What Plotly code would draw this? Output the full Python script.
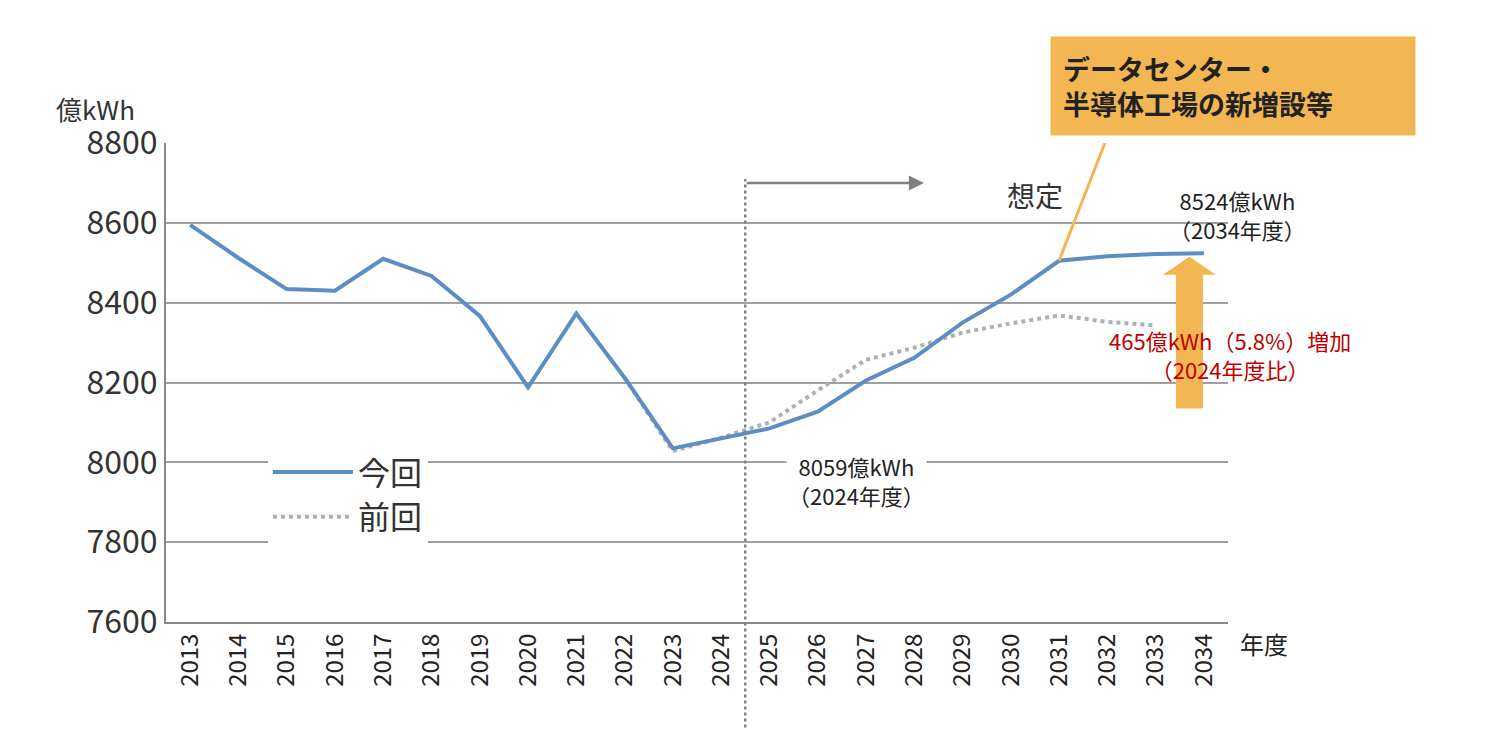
import plotly.graph_objects as go

years = [str(y) for y in range(2013, 2035)]
current = [8595, 8512, 8434, 8430, 8510, 8467, 8367, 8188, 8373, 8212, 8035, 8059,
           8085, 8127, 8205, 8262, 8350, 8420, 8505, 8516, 8522, 8524]
prev_years = [str(y) for y in range(2022, 2034)]
previous = [8212, 8028, 8062, 8100, 8180, 8257, 8287, 8325, 8348, 8368, 8352, 8343]

font = "Noto Sans CJK JP"
fig = go.Figure()
fig.add_trace(go.Scatter(x=prev_years, y=previous, name="前回", mode="lines",
                         line=dict(color="#B0B0B0", width=4, dash="dot")))
fig.add_trace(go.Scatter(x=years, y=current, name="今回", mode="lines",
                         line=dict(color="#5B8FC4", width=4)))

# arrow body + head (category index coordinates)
ax = 20.7
fig.add_shape(type="path", xref="x", yref="y",
              path=f"M {ax-0.28} 8135 L {ax+0.28} 8135 L {ax+0.28} 8470 L {ax+0.55} 8470 "
                   f"L {ax} 8515 L {ax-0.55} 8470 L {ax-0.28} 8470 Z",
              fillcolor="#F2B652", line=dict(width=0), layer="above")
# dotted guide lines
fig.add_shape(type="line", xref="x", yref="paper", x0=11.5, x1=11.5, y0=-0.22, y1=0.925,
              line=dict(color="#808080", width=2.5, dash="dot"))
fig.add_annotation(x=15.2, y=8700, ax=11.5, ay=8700, xref="x", yref="y", axref="x", ayref="y",
                   showarrow=True, arrowhead=2, arrowsize=1.2, arrowwidth=2.5, arrowcolor="#808080",
                   text="")
fig.add_shape(type="line", xref="x", yref="y", x0=18, y0=8505, x1=18.95, y1=8800,
              line=dict(color="#F2B652", width=3))

fig.add_annotation(x=1.005, y=1.223, xref="paper", yref="paper", showarrow=False,
                   text="<b>データセンター・<br>半導体工場の新増設等</b>", align="left",
                   bgcolor="#F2B652", borderpad=12, font=dict(size=27, color="#222"),
                   width=340, xanchor="center", yanchor="top")
fig.add_annotation(x=17.5, y=8670, xref="x", yref="y", showarrow=False, text="想定",
                   font=dict(size=28, color="#333"))
fig.add_annotation(x=1.075, y=8620, xref="paper", yref="y", showarrow=False,
                   text="8524億kWh<br>（2034年度）", font=dict(size=22, color="#222"))
fig.add_annotation(x=1.118, y=8270, xref="paper", yref="y", showarrow=False,
                   text="465億kWh（5.8%）増加<br>（2024年度比）", font=dict(size=22, color="#C00000"))
fig.add_annotation(x=13.8, y=7955, xref="x", yref="y", showarrow=False,
                   text="8059億kWh<br>（2024年度）", font=dict(size=22, color="#222"),
                   bgcolor="white")
fig.add_annotation(x=-0.105, y=1.03, xref="paper", yref="paper", showarrow=False, xanchor="left",
                   yanchor="bottom", text="億kWh", font=dict(size=26, color="#333"))
fig.add_annotation(x=1.0, y=-0.085, xref="paper", yref="paper", showarrow=False, xanchor="left",
                   xshift=10, text="年度", font=dict(size=24, color="#222"))

fig.update_layout(
    width=1511, height=744, plot_bgcolor="white", paper_bgcolor="white",
    margin=dict(l=158, r=291, t=135, b=130),
    font=dict(family=font, color="#333"),
    legend=dict(x=0.096, y=0.37, xanchor="left", yanchor="top", bgcolor="white",
                traceorder="reversed", font=dict(size=32), itemwidth=80,
                tracegroupgap=20, entrywidth=240),
    xaxis=dict(type="category", categoryorder="array", categoryarray=years,
               range=[-0.5, 21.5], tickangle=-90, tickfont=dict(size=24, color="#222"),
               showgrid=False, showline=True, linecolor="#888", linewidth=2, ticks=""),
    yaxis=dict(range=[7600, 8800], dtick=200, tickfont=dict(size=32, color="#333"),
               gridcolor="#A0A0A0", gridwidth=1.5, showline=True, linecolor="#888", linewidth=2,
               zeroline=False, ticks=""),
)
fig.write_html("out.html")
